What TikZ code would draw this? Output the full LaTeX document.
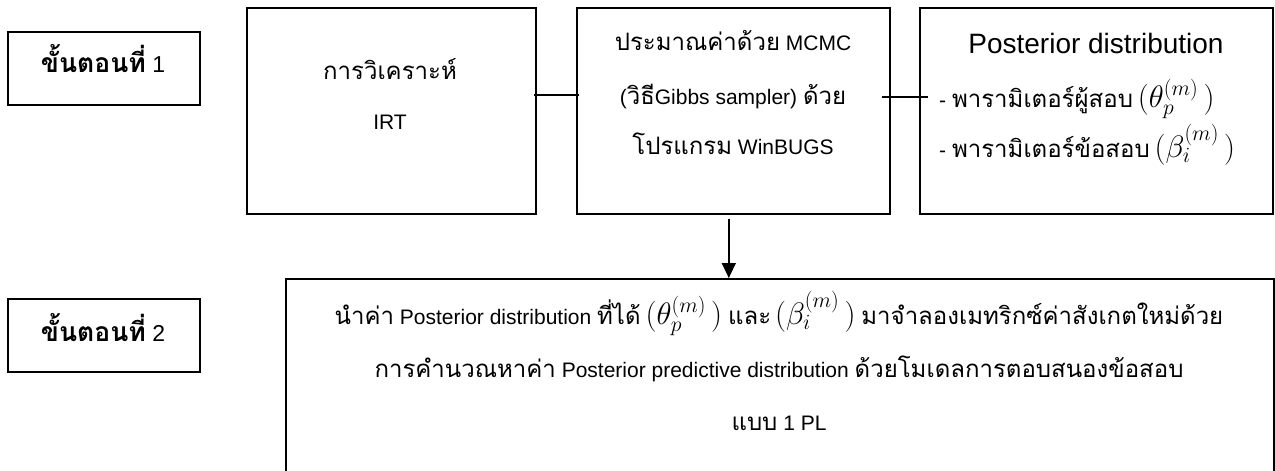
\RequirePackage{fix-cm}
\documentclass[tikz,border=0pt]{standalone}
\usepackage{fontspec}
\setmainfont{Liberation Sans}
\newfontfamily\thai[Script=Thai]{Loma}
\usetikzlibrary{arrows.meta}
% Thai runs, regular and bold
\newcommand{\tf}[1]{{\thai\fontsize{24}{28}\selectfont #1}}
\newcommand{\tfb}[1]{{\thai\bfseries\fontsize{26.5}{30}\selectfont #1}}
% parameter symbols, set large
\newcommand{\bigmath}[1]{{\fontsize{31}{34}\selectfont$#1$}}

\begin{document}
\begin{tikzpicture}[x=1pt,y=-1pt,
  box/.style={draw, line width=1.6pt, inner sep=0pt, anchor=north west},
  conn/.style={line width=1.5pt},
  flow/.style={line width=1.4pt, -{Triangle[width=14pt,length=15pt]}},
  txt/.style={inner sep=0pt, anchor=base, font=\fontsize{21}{24}\selectfont},
  stage/.style={inner sep=0pt, anchor=base, font=\fontsize{23}{26}\selectfont}]
\useasboundingbox (0,0) rectangle (1275,471);

% frames
\node[box, minimum width=192pt, minimum height=73pt]  (s1)   at (7,31)  {};
\node[box, minimum width=289pt, minimum height=206pt] (irt)  at (246,7) {};
\node[box, minimum width=313pt, minimum height=206pt] (mcmc) at (576,7) {};
\node[box, minimum width=353pt, minimum height=206pt] (post) at (919,7) {};
\node[box, minimum width=192pt, minimum height=73pt]  (s2)   at (7,298) {};
\node[box, minimum width=988pt, minimum height=210pt] (bot)  at (285,278) {};

% stage labels
\node[stage] (s1t) at (103,72)  {\tfb{ขั้นตอนที่} 1};
\node[stage] (s2t) at (103,341) {\tfb{ขั้นตอนที่} 2};

% step 1 texts
\node[txt] (irt1) at (390,79)  {\tf{การวิเคราะห์}};
\node[txt] (irt2) at (390,129) {IRT};

\node[txt] (m1) at (733,50)  {\tf{ประมาณค่าด้วย} MCMC};
\node[txt] (m2) at (733,104) {(\tf{วิธี}Gibbs sampler) \tf{ด้วย}};
\node[txt] (m3) at (733,154) {\tf{โปรแกรม} WinBUGS};

\node[inner sep=0pt, anchor=base, font=\fontsize{28}{32}\selectfont] (p1) at (1096,53) {Posterior distribution};
\node[txt, anchor=base west] (p2) at (939,107) {- \tf{พารามิเตอร์ผู้สอบ}\kern5pt\bigmath{(\theta_p^{(m)}\,)}};
\node[txt, anchor=base west] (p3) at (939,157) {- \tf{พารามิเตอร์ข้อสอบ}\kern5pt\bigmath{(\beta_i^{(m)}\,)}};

% step 2 texts
\node[txt] (b1) at (779,324) {\tf{นำค่า} Posterior distribution \tf{ที่ได้}\kern5pt\bigmath{(\theta_p^{(m)}\,)} \tf{และ}\kern4pt\bigmath{(\beta_i^{(m)}\,)} \tf{มาจำลองเมทริกซ์ค่าสังเกตใหม่ด้วย}};
\node[txt] (b2) at (779,377) {\tf{การคำนวณหาค่า} Posterior predictive distribution \tf{ด้วยโมเดลการตอบสนองข้อสอบ}};
\node[txt] (b3) at (779,430) {\tf{แบบ} 1 PL};

% connectors
\draw[conn] ([xshift=-3pt,yshift=16pt]irt.east) -- ([xshift=3pt,yshift=16pt]mcmc.west);
\draw[conn] ([xshift=-9pt,yshift=14pt]mcmc.east) -- ([xshift=9pt,yshift=14pt]post.west);
\draw[flow] ([xshift=-4.5pt,yshift=-4pt]mcmc.south) -- ([xshift=-4.5pt]mcmc.south |- bot.north);
\end{tikzpicture}
\end{document}
